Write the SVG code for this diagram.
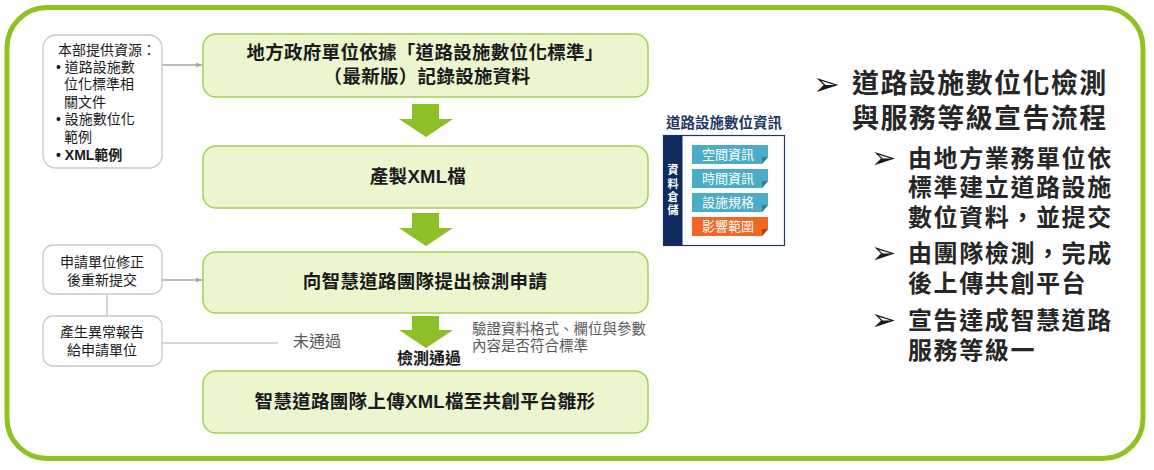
<svg xmlns="http://www.w3.org/2000/svg" width="1154" height="470" viewBox="0 0 1154 470" xml:lang="zh-Hant-TW">
<defs>
<style>
.t{font-family:"Liberation Sans","Noto Sans CJK TC",sans-serif;}
.gbox{fill:#EBF6CF;stroke:#A5D055;stroke-width:1.5;}
.wbox{fill:#FFFFFF;stroke:#C9C9C9;stroke-width:1.3;}
.gt{font-size:18.5px;font-weight:bold;fill:#1A1A1A;text-anchor:middle;letter-spacing:0.3px;}
.lt{font-size:14px;fill:#1A1A1A;}
.ga{fill:#8DBF26;}
.conn{stroke:#A6A6A6;stroke-width:1.5;fill:none;}
.conn2{stroke:#C8C8C8;stroke-width:1.5;fill:none;}
.gray{fill:#595959;}
.rt{font-size:27px;font-weight:bold;fill:#262626;letter-spacing:1.4px;}
.rs{font-size:24px;font-weight:bold;fill:#262626;letter-spacing:1.6px;}
.bul{font-family:"DejaVu Sans",sans-serif;fill:#1A1A1A;}
.item{font-size:13px;fill:#FFFFFF;text-anchor:middle;}
</style>
<marker id="ah" viewBox="0 0 10 10" refX="10" refY="5" markerWidth="6" markerHeight="6" orient="auto" markerUnits="userSpaceOnUse">
<path d="M0,1 L10,5 L0,9 Z" fill="#A6A6A6"/>
</marker>
</defs>
<rect width="1154" height="470" fill="#FFFFFF"/>
<rect x="7" y="7.5" width="1136" height="451" rx="40" ry="40" fill="#FFFFFF" stroke="#8DC21F" stroke-width="5"/>

<g id="connectors">
<line class="conn" x1="162" y1="65" x2="202" y2="65" marker-end="url(#ah)"/>
<line class="conn" x1="162" y1="280" x2="202" y2="280" marker-end="url(#ah)"/>
<line class="conn2" x1="107" y1="294" x2="107" y2="316"/>
<line class="conn2" x1="162" y1="343" x2="278" y2="343"/>
<polygon class="ga" points="412,104 439,104 439,119 453,119 426,137 399,119 412,119"/>
<polygon class="ga" points="412,213 439,213 439,228 453,228 426,246 399,228 412,228"/>
<polygon class="ga" points="412,316 439,316 439,330 453,330 426,348 399,330 412,330"/>
<text class="t gray" x="293" y="347" font-size="16">未通過</text>
<text class="t" x="397" y="364" font-size="16" font-weight="bold" fill="#1A1A1A">檢測通過</text>
<text class="t gray" x="472" y="334" font-size="14.5">驗證資料格式、欄位與參數</text>
<text class="t gray" x="472" y="351" font-size="14.5">內容是否符合標準</text>
</g>

<g id="node-resources">
<rect class="wbox" x="43" y="35" width="119" height="133" rx="13"/>
<text class="t lt" x="58" y="55">本部提供資源：</text>
<text class="t lt" x="56" y="72">• 道路設施數</text>
<text class="t lt" x="64" y="89">位化標準相</text>
<text class="t lt" x="64" y="107">關文件</text>
<text class="t lt" x="56" y="124">• 設施數位化</text>
<text class="t lt" x="64" y="142">範例</text>
<text class="t lt" x="56" y="160" font-weight="bold">• XML範例</text>
</g>

<g id="node-resubmit">
<rect class="wbox" x="43" y="245" width="119" height="49" rx="10"/>
<text class="t lt" x="102" y="267" text-anchor="middle">申請單位修正</text>
<text class="t lt" x="102" y="285" text-anchor="middle">後重新提交</text>
</g>

<g id="node-report">
<rect class="wbox" x="43" y="316" width="119" height="50" rx="10"/>
<text class="t lt" x="102" y="337" text-anchor="middle">產生異常報告</text>
<text class="t lt" x="102" y="355" text-anchor="middle">給申請單位</text>
</g>

<g id="node-record">
<rect class="gbox" x="203" y="34" width="445" height="63" rx="13"/>
<text class="t gt" x="425" y="59">地方政府單位依據「道路設施數位化標準」</text>
<text class="t gt" x="427" y="83">（最新版）記錄設施資料</text>
</g>

<g id="node-xml">
<rect class="gbox" x="203" y="146" width="445" height="62" rx="13"/>
<text class="t gt" x="418" y="183">產製XML檔</text>
</g>

<g id="node-apply">
<rect class="gbox" x="203" y="252" width="445" height="61" rx="13"/>
<text class="t gt" x="425" y="288">向智慧道路團隊提出檢測申請</text>
</g>

<g id="node-upload">
<rect class="gbox" x="203" y="371" width="445" height="62" rx="13"/>
<text class="t gt" x="425" y="408">智慧道路團隊上傳XML檔至共創平台雛形</text>
</g>

<g id="node-panel">
<text class="t" x="724" y="128" text-anchor="middle" font-size="14.5" font-weight="bold" fill="#1F3864">道路設施數位資訊</text>
<rect x="663.5" y="135.5" width="121" height="110" fill="#FFFFFF" stroke="#1F3864" stroke-width="1.2"/>
<rect x="663.5" y="135.5" width="19" height="110" fill="#0E2A5E"/>
<g class="t" font-size="11" font-weight="bold" fill="#FFFFFF" text-anchor="middle">
<text x="673" y="174">資</text>
<text x="673" y="188">料</text>
<text x="673" y="201">倉</text>
<text x="673" y="214">儲</text>
</g>
<polygon points="692,145 768,145 768,157 762,164 692,164" fill="#4BACC6"/>
<polygon points="768,157 762,164 762,157" fill="#2E7F95"/>
<text class="t item" x="728" y="159">空間資訊</text>
<polygon points="692,169 768,169 768,181 762,188 692,188" fill="#4BACC6"/>
<polygon points="768,181 762,188 762,181" fill="#2E7F95"/>
<text class="t item" x="728" y="183">時間資訊</text>
<polygon points="692,193 768,193 768,205 762,212 692,212" fill="#4BACC6"/>
<polygon points="768,205 762,212 762,205" fill="#2E7F95"/>
<text class="t item" x="728" y="207">設施規格</text>
<polygon points="692,217 768,217 768,229 762,236 692,236" fill="#F26522"/>
<polygon points="768,229 762,236 762,229" fill="#A8420F"/>
<text class="t item" x="728" y="231">影響範圍</text>
</g>

<g id="node-notes">
<text class="bul" x="813" y="95" font-size="32">➢</text>
<text class="t rt" x="852" y="93">道路設施數位化檢測</text>
<text class="t rt" x="852" y="128">與服務等級宣告流程</text>
<text class="bul" x="871" y="168" font-size="30">➢</text>
<text class="t rs" x="908" y="167">由地方業務單位依</text>
<text class="t rs" x="908" y="196">標準建立道路設施</text>
<text class="t rs" x="908" y="226">數位資料，並提交</text>
<text class="bul" x="871" y="263" font-size="30">➢</text>
<text class="t rs" x="908" y="262">由團隊檢測，完成</text>
<text class="t rs" x="908" y="292">後上傳共創平台</text>
<text class="bul" x="871" y="330" font-size="30">➢</text>
<text class="t rs" x="908" y="329">宣告達成智慧道路</text>
<text class="t rs" x="908" y="359">服務等級一</text>
</g>
</svg>
